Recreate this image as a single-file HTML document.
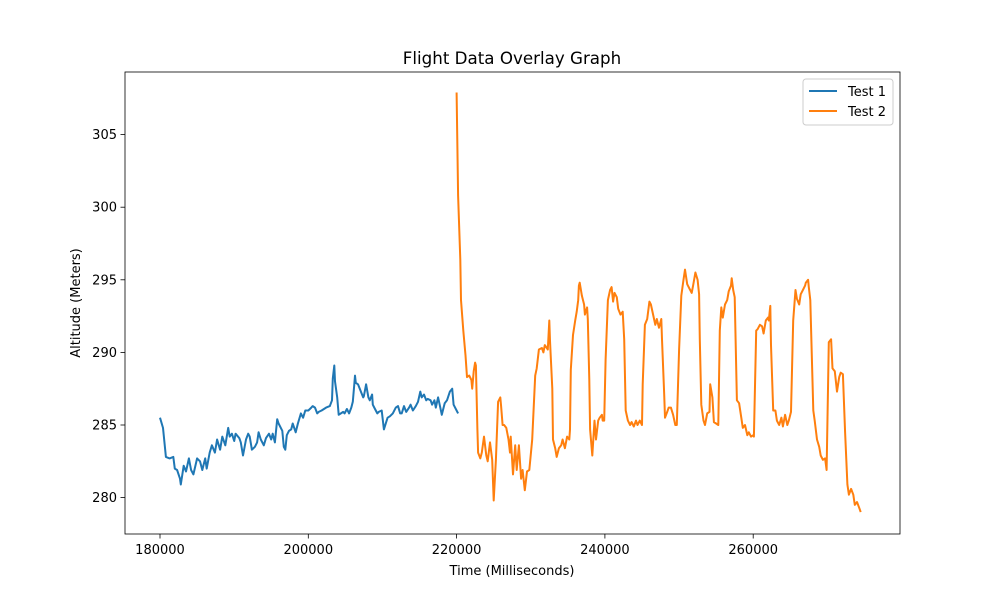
<!DOCTYPE html>
<html><head><meta charset="utf-8">
<style>
html,body{margin:0;padding:0;background:#fff;}
svg{display:block;font-family:"DejaVu Sans","Liberation Sans",sans-serif;}
</style></head>
<body>
<svg id="chart" width="1000" height="600" viewBox="0 0 1000 600">
<rect x="0" y="0" width="1000" height="600" fill="#fff"/>
<text x="512" y="64" text-anchor="middle" font-size="16.7" fill="#000">Flight Data Overlay Graph</text>
<g id="plot"></g>
<rect x="125" y="72" width="775" height="462" fill="none" stroke="#000" stroke-width="0.8"/>
<text x="512" y="575" text-anchor="middle" font-size="13">Time (Milliseconds)</text>
<text transform="translate(80,303) rotate(-90)" text-anchor="middle" font-size="13">Altitude (Meters)</text>
<g>
<rect x="803" y="79" width="90" height="46" rx="3" fill="#fff" stroke="#ccc" stroke-width="1"/>
<line x1="809" y1="91" x2="837" y2="91" stroke="#1f77b4" stroke-width="2"/>
<text x="848" y="96" font-size="13">Test 1</text>
<line x1="809" y1="111" x2="837" y2="111" stroke="#ff7f0e" stroke-width="2"/>
<text x="848" y="116" font-size="13">Test 2</text>
</g>
</svg>
<script>
const xTicks=[180000,200000,220000,240000,260000];
const yTicks=[280,285,290,295,300,305];
const t1Time=[180000,180400,180800,181300,181800,182000,182300,182700,182800,183200,183500,183900,184200,184500,185000,185400,185700,186100,186300,186700,187000,187400,187700,188100,188400,188800,189200,189400,189700,190000,190200,190700,190900,191200,191600,191900,192100,192400,192800,193100,193300,193600,194000,194300,194700,195000,195200,195500,195800,196000,196500,196700,196900,197100,197400,197700,197900,198300,198600,199000,199300,199600,200000,200400,200600,200900,201200,201400,201800,202400,202900,203200,203300,203500,203600,203900,204100,204400,204700,204900,205200,205500,205800,206000,206200,206300,206400,206700,207100,207400,207500,207800,208100,208300,208600,208700,209000,209300,209500,209900,210200,210500,210700,211000,211400,211800,212100,212400,212600,212900,213200,213600,213800,214100,214500,214800,215100,215300,215600,215900,216100,216500,216700,217000,217200,217500,217800,218000,218400,218700,219100,219400,219600,220000,220200];
const t1Alt=[285.5,284.8,282.8,282.7,282.8,282.0,281.9,281.3,280.9,282.2,281.8,282.7,281.9,281.6,282.7,282.5,281.9,282.7,282.0,283.1,283.6,283.1,284.0,283.3,284.2,283.6,284.8,284.2,284.4,283.9,284.4,284.1,283.8,282.9,284.0,284.4,284.2,283.3,283.5,283.8,284.5,284.0,283.6,284.1,284.4,284.0,284.4,283.8,285.4,285.1,284.6,283.5,283.3,284.3,284.6,284.7,285.1,284.5,285.1,285.8,285.5,286.0,286.0,286.2,286.3,286.2,285.8,285.9,286.0,286.2,286.3,286.7,288.2,289.1,288.0,286.9,285.7,285.8,285.9,285.8,286.1,285.8,286.2,286.6,287.8,288.4,287.9,287.8,287.3,286.9,287.0,287.8,286.9,286.7,287.1,286.4,286.1,285.8,285.9,286.0,284.7,285.2,285.5,285.6,285.8,286.2,286.3,285.8,285.8,286.3,285.9,286.2,286.4,286.0,286.3,286.6,287.3,286.9,287.1,286.7,286.8,286.7,286.4,286.7,286.2,286.9,286.2,285.7,286.5,286.7,287.3,287.5,286.4,286.0,285.8];
const t2Time=[220000,220200,220500,220600,220900,221200,221400,221700,222000,222100,222300,222500,222600,222800,222900,223200,223400,223700,224000,224200,224500,224800,225000,225300,225600,225900,226000,226200,226400,226700,227000,227200,227300,227600,227900,228100,228400,228700,228900,229200,229500,229800,229900,230200,230600,230800,231100,231500,231700,231900,232300,232500,232600,232900,233000,233300,233500,233800,234100,234300,234600,234900,235200,235300,235400,235700,236000,236200,236400,236500,236600,236900,237200,237300,237600,237700,237900,238000,238300,238600,238800,239100,239300,239600,239700,239900,240100,240400,240700,240900,241100,241300,241600,241800,242100,242400,242600,242800,243100,243400,243600,243900,244200,244400,244700,245000,245100,245400,245700,246000,246200,246500,246800,247000,247300,247600,247700,248000,248100,248400,248600,248900,249200,249500,249700,250000,250300,250600,250800,251100,251400,251700,251900,252200,252500,252700,252800,253000,253300,253500,253800,254100,254200,254500,254700,255000,255300,255500,255700,255900,256200,256500,256700,257000,257100,257300,257500,257800,258100,258400,258600,258900,259200,259400,259700,260000,260100,260400,260600,260900,261200,261400,261700,262000,262100,262300,262400,262700,263000,263200,263500,263800,264000,264300,264600,264800,265100,265400,265700,265900,266200,266400,266700,267000,267100,267400,267500,267700,268100,268300,268600,268900,269100,269400,269700,269900,270200,270500,270700,271000,271300,271600,271800,272100,272400,272700,272900,273200,273500,273700,274000,274300,274500];
const t2Alt=[307.9,300.8,296.4,293.6,291.5,289.8,288.3,288.4,288.1,287.5,288.7,289.3,289.1,284.7,283.1,282.7,283.1,284.2,282.9,282.5,283.8,282.6,279.8,282.6,286.6,286.9,286.3,285.0,285.0,284.8,284.0,283.1,284.2,281.6,283.6,281.9,283.6,281.3,281.9,280.5,281.8,281.9,282.4,284.0,288.4,288.9,290.2,290.3,290.0,290.5,290.2,292.2,290.8,287.5,284.0,283.4,282.8,283.4,283.6,284.0,283.4,284.2,284.0,284.7,288.8,291.2,292.2,292.8,293.6,294.6,294.8,293.9,293.3,292.6,293.1,292.3,288.1,284.7,282.9,285.3,284.0,285.3,285.5,285.7,285.3,285.3,289.5,293.6,294.3,294.5,293.5,294.1,293.8,293.0,292.6,292.8,290.9,286.0,285.3,285.0,285.2,284.9,285.3,285.0,285.3,285.0,287.8,291.9,292.3,293.5,293.3,292.6,291.9,292.3,291.7,292.3,290.9,287.1,285.5,285.9,286.2,286.2,285.7,285.0,285.0,290.2,293.9,295.0,295.7,294.7,294.4,294.1,294.6,295.5,295.0,294.0,290.9,286.4,285.3,285.0,285.8,285.9,287.8,286.9,285.2,285.1,285.0,291.5,293.1,292.4,293.3,293.6,294.2,294.6,295.1,294.3,293.8,286.7,286.5,285.5,284.8,285.0,284.3,284.5,284.2,284.3,284.2,291.5,291.6,291.9,291.8,291.3,292.2,292.4,292.2,293.2,290.5,286.0,286.0,285.3,285.0,285.5,284.9,285.7,285.0,285.3,285.9,292.2,294.3,293.7,293.3,294.0,294.3,294.6,294.8,295.0,294.5,293.6,286.0,285.3,284.0,283.5,282.9,282.6,282.7,281.9,290.7,290.9,288.9,288.7,287.3,288.3,288.6,288.5,284.5,280.9,280.2,280.6,280.2,279.5,279.7,279.3,279.0];

const NS='http://www.w3.org/2000/svg';
function xScale(t){return 160+(t-180000)/20000*148.3;}
function yScale(v){return 425-(v-285)*14.52;}
const plot=document.getElementById('plot');

xTicks.forEach(function(t){
  const x=xScale(t);
  const ln=document.createElementNS(NS,'line');
  ln.setAttribute('x1',x);ln.setAttribute('x2',x);ln.setAttribute('y1',534);ln.setAttribute('y2',538.5);
  ln.setAttribute('stroke','#000');ln.setAttribute('stroke-width','0.8');
  
  
  plot.appendChild(ln);
  const tx=document.createElementNS(NS,'text');
  tx.setAttribute('x',x);tx.setAttribute('y',554);tx.setAttribute('text-anchor','middle');tx.setAttribute('font-size','13');
  tx.textContent=String(t);
  
  
  plot.appendChild(tx);
});
yTicks.forEach(function(v){
  const y=yScale(v);
  const ln=document.createElementNS(NS,'line');
  ln.setAttribute('x1',120.5);ln.setAttribute('x2',125);ln.setAttribute('y1',y);ln.setAttribute('y2',y);
  ln.setAttribute('stroke','#000');ln.setAttribute('stroke-width','0.8');
  
  
  plot.appendChild(ln);
  const tx=document.createElementNS(NS,'text');
  tx.setAttribute('x',117);tx.setAttribute('y',y+4.5);tx.setAttribute('text-anchor','end');tx.setAttribute('font-size','13');
  tx.textContent=String(v);
  
  
  plot.appendChild(tx);
});
function drawLine(times,alts,color,name){
  let d='';
  for(let i=0;i<times.length;i++){d+=(i?'L':'M')+xScale(times[i]).toFixed(1)+','+yScale(alts[i]).toFixed(1);}
  const p=document.createElementNS(NS,'path');
  p.setAttribute('d',d);p.setAttribute('fill','none');p.setAttribute('stroke',color);
  p.setAttribute('stroke-width','2');p.setAttribute('stroke-linejoin','round');
  
  
  plot.appendChild(p);
}
drawLine(t1Time,t1Alt,'#1f77b4','series-test1-line');
drawLine(t2Time,t2Alt,'#ff7f0e','series-test2-line');
</script>
</body></html>
